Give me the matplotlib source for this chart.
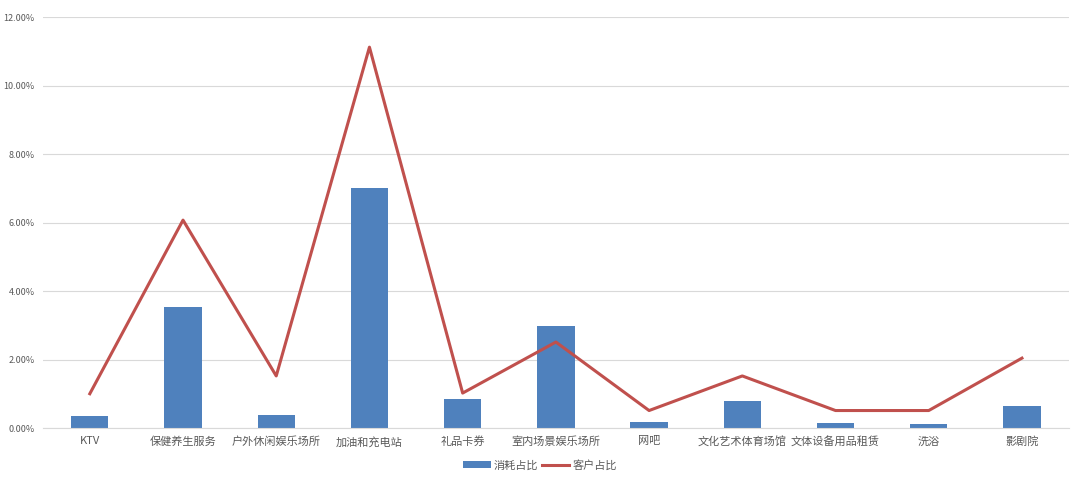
import matplotlib
matplotlib.use("Agg")
import matplotlib.pyplot as plt
from matplotlib.ticker import FuncFormatter
import numpy as np

plt.rcParams['font.family'] = ['Noto Sans CJK SC', 'DejaVu Sans']

# --- datos ---
categorias = ['KTV', '保健养生服务', '户外休闲娱乐场所', '加油和充电站', '礼品卡券',
              '室内场景娱乐场所', '网吧', '文化艺术体育场馆', '文体设备用品租赁', '洗浴', '影剧院']
consumo = [0.35, 3.53, 0.38, 7.02, 0.85, 2.98, 0.18, 0.79, 0.15, 0.12, 0.64]   # 消耗占比 (%)
clientes = [1.00, 6.07, 1.52, 11.12, 1.02, 2.51, 0.51, 1.52, 0.51, 0.51, 2.04]  # 客户占比 (%)
y_ticks = [0, 2, 4, 6, 8, 10, 12]

fig = plt.figure(figsize=(10.8, 4.78), dpi=100)
ax = fig.add_axes([0.040, 0.1046, 0.9494, 0.8598])

x = np.arange(len(categorias))
barras = ax.bar(x, consumo, width=0.4, color='#4F81BD', label='消耗占比', zorder=2)
linea, = ax.plot(x, clientes, color='#C0504D', linewidth=2.2, label='客户占比', zorder=3)

ax.set_xlim(-0.5, len(categorias) - 0.5)
ax.set_ylim(0, 12)
ax.set_yticks(y_ticks)
ax.yaxis.set_major_formatter(FuncFormatter(lambda v, p: f"{v:.2f}%"))
ax.set_xticks(x)
ax.set_xticklabels(categorias)

ax.grid(axis='y', color='#D9D9D9', linewidth=0.8, zorder=0)
for s in ['top', 'right', 'left']:
    ax.spines[s].set_visible(False)
ax.spines['bottom'].set_color('#D9D9D9')
ax.tick_params(axis='y', length=0, labelsize=6.5, labelcolor='#595959', pad=6)
ax.tick_params(axis='x', length=0, labelsize=8, labelcolor='#595959', pad=6)

# leyenda abajo: barras primero, luego la linea
leg = fig.legend([barras, linea], ['消耗占比', '客户占比'], loc='lower center',
                 bbox_to_anchor=(0.5, -0.005), ncol=2, frameon=False,
                 fontsize=8, handlelength=2.5, columnspacing=0.3, handletextpad=0.3)
for t in leg.get_texts():
    t.set_color('#595959')

fig.savefig('out.png', dpi=100)
